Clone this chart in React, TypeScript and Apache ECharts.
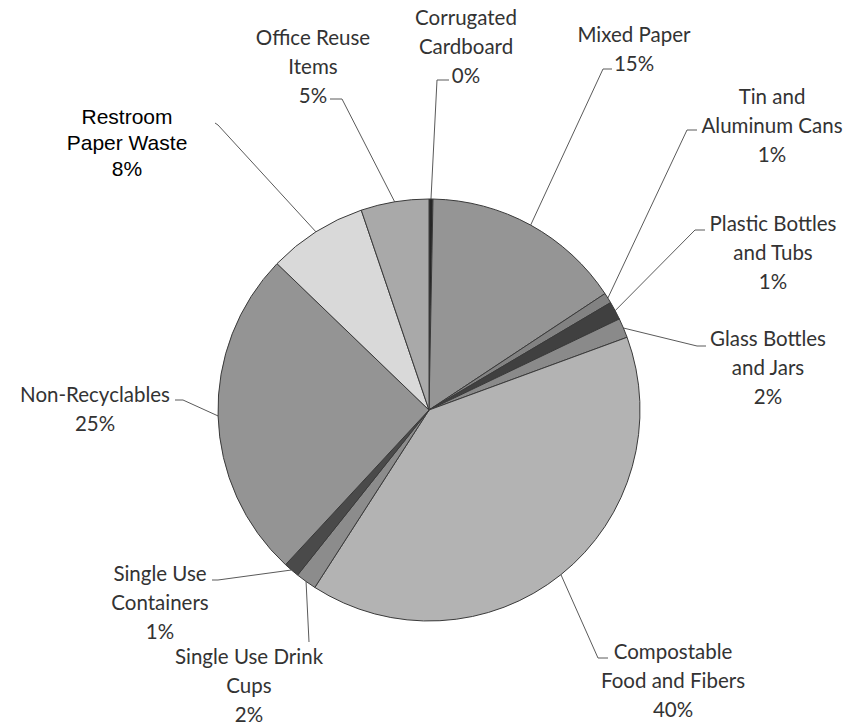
import React, { useEffect, useRef } from "react";
import * as echarts from "echarts";

const categories = [
  "Corrugated\nCardboard",
  "Mixed Paper",
  "Tin and\nAluminum Cans",
  "Plastic Bottles\nand Tubs",
  "Glass Bottles\nand Jars",
  "Compostable\nFood and Fibers",
  "Single Use Drink\nCups",
  "Single Use\nContainers",
  "Non-Recyclables",
  "Restroom\nPaper Waste",
  "Office Reuse\nItems",
];
const values = [0.3, 15.4, 0.8, 1.4, 1.5, 39.7, 1.6, 1.2, 25.3, 7.6, 5.2];
const colors = [
  "#262626", "#959595", "#828282", "#404040", "#8a8a8a", "#b3b3b3",
  "#8c8c8c", "#4a4a4a", "#949494", "#d9d9d9", "#a9a9a9",
];
// label block centres and leader-line elbows
const labelPos: { x: number; y: number; elbow: number[]; end: number[] }[] = [
  { x: 466, y: 46, elbow: [437, 80], end: [449, 80] },
  { x: 634, y: 48, elbow: [603, 69], end: [612, 69] },
  { x: 772, y: 125, elbow: [687, 130], end: [697, 130] },
  { x: 773, y: 252, elbow: [695, 230], end: [705, 230] },
  { x: 768, y: 367, elbow: [697, 346], end: [706, 346] },
  { x: 673, y: 680, elbow: [598, 658], end: [608, 658] },
  { x: 249, y: 685, elbow: [309, 642], end: [309, 642] },
  { x: 160, y: 602, elbow: [218, 580], end: [212, 580] },
  { x: 95, y: 408, elbow: [183, 400], end: [175, 400] },
  { x: 127, y: 142, elbow: [218, 125], end: [215, 123] },
  { x: 313, y: 66, elbow: [342, 99], end: [330, 99] },
];

const CX = 429;
const CY = 410;
const R = 211;

export default function App() {
  const ref = useRef<HTMLDivElement>(null);
  useEffect(() => {
    document.body.style.margin = "0";
    const chart = echarts.init(ref.current!, null, { renderer: "svg" });
    const total = values.reduce((a, b) => a + b, 0);
    const cum: number[] = [];
    let s = 0;
    values.forEach((v) => {
      cum.push(s);
      s += v;
    });
    chart.setOption({
      animation: false,
      backgroundColor: "#ffffff",
      series: [
        {
          type: "pie",
          center: [CX, CY],
          radius: R,
          startAngle: 90,
          clockwise: true,
          avoidLabelOverlap: false,
          itemStyle: { borderColor: "#3a3a3a", borderWidth: 1 },
          label: {
            show: true,
            position: "outside",
            fontFamily: "Lato",
            fontSize: 20.5,
            lineHeight: 29,
            color: "#333333",
            align: "center",
            formatter: (p: any) => `${p.name}\n${Math.round(p.percent)}%`,
          },
          labelLine: {
            show: true,
            smooth: false,
            lineStyle: { color: "#5a5a5a", width: 1 },
          },
          labelLayout: (params: any) => {
            const i = params.dataIndex;
            const L = labelPos[i];
            const a = ((cum[i] + values[i] / 2) / total) * Math.PI * 2;
            const anchor = [CX + R * Math.sin(a), CY - R * Math.cos(a)];
            return {
              x: L.x,
              y: L.y,
              align: "center",
              verticalAlign: "middle",
              labelLinePoints: [anchor, L.elbow, L.end],
            };
          },
          emphasis: { disabled: true },
          data: categories.map((name, i) => {
            const item: any = {
              name,
              value: values[i],
              itemStyle: { color: colors[i] },
            };
            if (i === 9) {
              item.label = {
                fontFamily: "Liberation Sans",
                fontSize: 21,
                lineHeight: 26,
                color: "#000000",
              };
            }
            return item;
          }),
        },
      ],
    });
    return () => chart.dispose();
  }, []);
  return <div ref={ref} style={{ width: 858, height: 725 }} />;
}
